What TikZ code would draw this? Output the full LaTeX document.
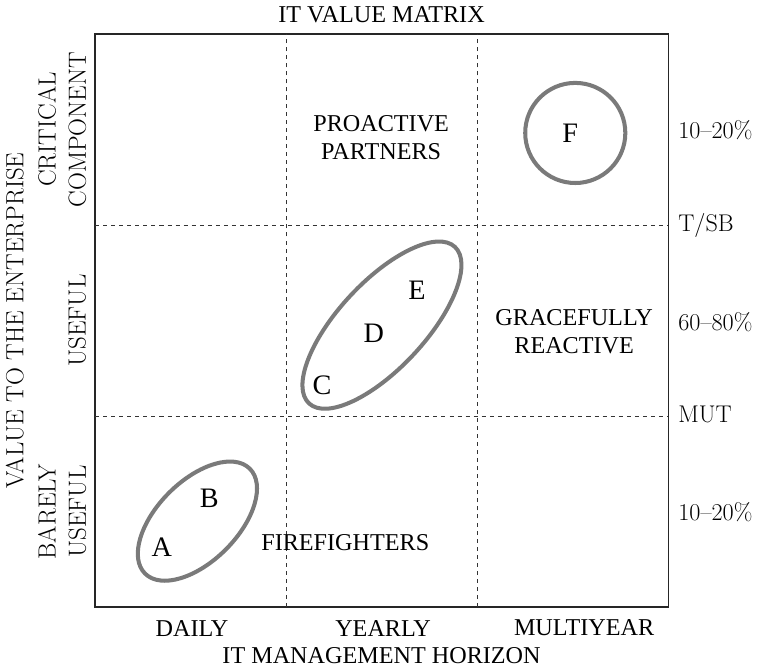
\documentclass[tikz,border=0pt]{standalone}
\usepackage{fontspec}
\newfontfamily\garafont{Liberation Serif}
\tikzset{
    gtext/.style = {font = \garafont\fontsize{18}{21}\selectfont, align = center, inner sep = 0pt},
    letter/.style = {font = \garafont\fontsize{21}{24}\selectfont, inner sep = 0pt},
    ltext/.style = {font = \fontsize{18.5}{22.4}\selectfont, align = center, inner sep = 0pt},
    rtext/.style = {font = \fontsize{18}{21}\selectfont, anchor = west, inner sep = 0pt},
    grp/.style = {line width = 3pt, draw = black!52},
}
\begin{document}
\begin{tikzpicture}
                \useasboundingbox (-2.487, -1.65) rectangle (17.51, 15.89);
                \draw [line width = 0.9pt, black!85] (0, 0) rectangle (15, 15);
                \draw [dashed, line width = 0.7pt, black!80]
                    (5, 0) -- (5, 15)
                    (10, 0) -- (10, 15)
                    (0, 5) -- (15, 5)
                    (0, 10) -- (15, 10)
                ;
                \node (title) at (7.5, 15.5) [gtext] {IT VALUE MATRIX};
                \node (daily) at (2.54, -0.55) [gtext] {DAILY};
                \node (yearly) at (7.54, -0.55) [gtext] {YEARLY};
                \node (multi) at (12.8, -0.55) [gtext] {MULTIYEAR};
                \node (horizon) at (7.5, -1.28) [gtext] {IT MANAGEMENT HORIZON};
                \node (value) at (-2.1, 7.5) [ltext, rotate = 90] {VALUE TO THE ENTERPRISE};
                \node (critical) at (-0.86, 12.5) [ltext, rotate = 90] {CRITICAL\\COMPONENT};
                \node (useful) at (-0.47, 7.5) [ltext, rotate = 90] {USEFUL};
                \node (barely) at (-0.86, 2.5) [ltext, rotate = 90] {BARELY\\USEFUL};
                \node (topshare) at (15.26, 12.49) [rtext] {10--20\%};
                \node (tsb) at (15.26, 10) [rtext] {T/SB};
                \node (midshare) at (15.26, 7.46) [rtext] {60--80\%};
                \node (mut) at (15.26, 5.03) [rtext] {MUT};
                \node (lowshare) at (15.26, 2.49) [rtext] {10--20\%};
                \node (proactive) at (7.49, 12.28) [gtext] {PROACTIVE\\PARTNERS};
                \node (graceful) at (12.54, 7.2) [gtext] {GRACEFULLY\\REACTIVE};
                \node (fire) at (6.55, 1.70) [gtext] {FIREFIGHTERS};
                \node (a) at (1.75, 1.58) [letter] {A};
                \node (b) at (2.99, 2.85) [letter] {B};
                \node (c) at (5.94, 5.81) [letter] {C};
                \node (d) at (7.30, 7.17) [letter] {D};
                \node (e) at (8.43, 8.30) [letter] {E};
                \node (f) at (12.44, 12.41) [letter] {F};
                \draw [grp] (12.57, 12.41) circle (1.31);
                \draw [grp, shift = {(7.51, 7.38)}, rotate = 47] (0, 0) ellipse (2.80 and 1.13);
                \draw [grp, shift = {(2.68, 2.25)}, rotate = 45] (0, 0) ellipse (1.94 and 1.05);
            \end{tikzpicture}
\end{document}
